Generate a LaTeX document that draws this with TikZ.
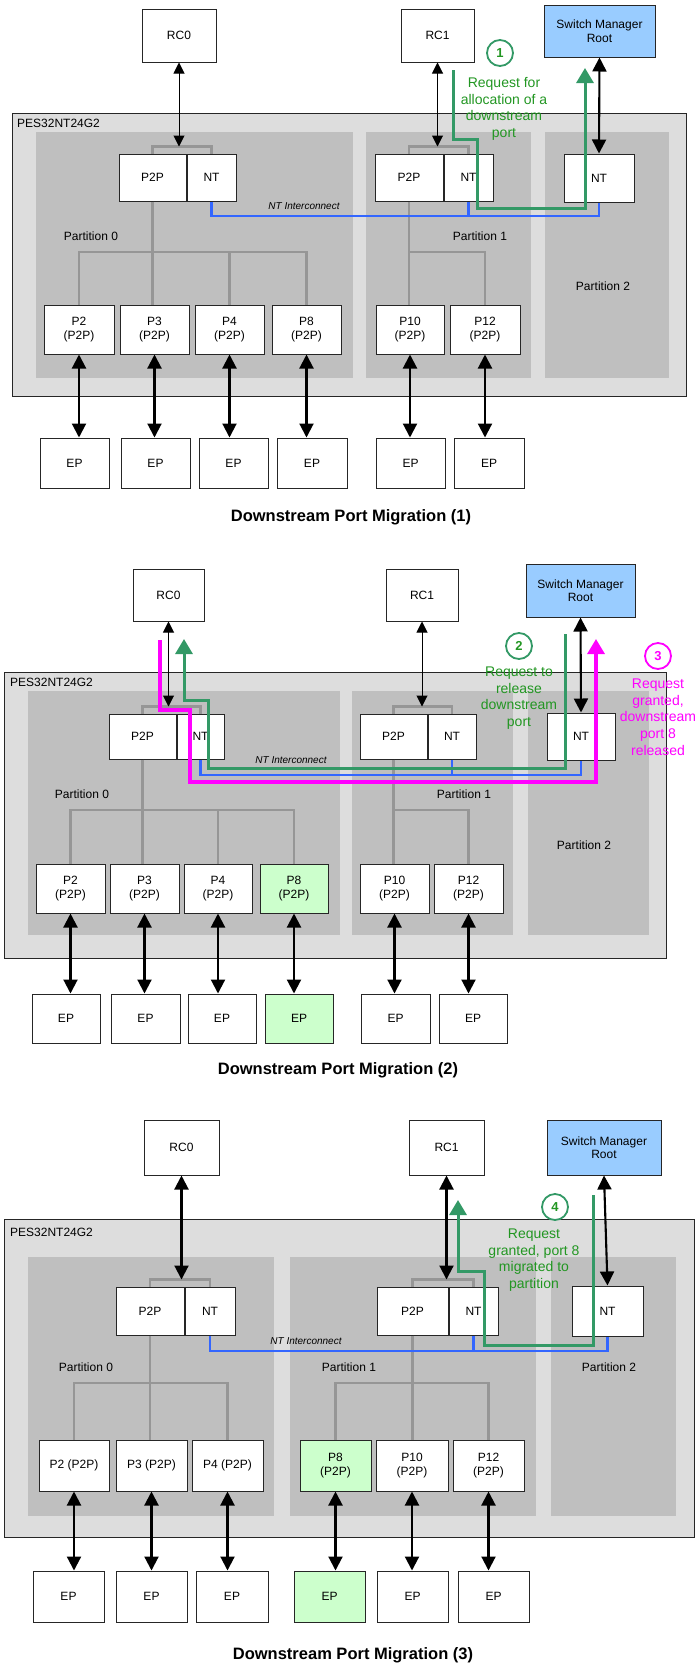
\documentclass[tikz,border=0pt]{standalone}
\usepackage{fontspec}
\setmainfont{Liberation Sans}
\definecolor{chipgray}{RGB}{221,221,221}
\definecolor{partgray}{RGB}{191,191,191}
\definecolor{treegray}{RGB}{150,150,150}
\definecolor{smrblue}{RGB}{153,204,255}
\definecolor{movedgreen}{RGB}{204,255,204}
\definecolor{ntblue}{RGB}{51,102,255}
\definecolor{flowgreen}{RGB}{51,153,102}
\definecolor{notegreen}{RGB}{34,150,34}
\definecolor{grantpink}{RGB}{255,0,255}
\usetikzlibrary{
  arrows.meta,
  positioning,
}
\newcommand{\lblfont}{\fontsize{12}{14.3}\selectfont}
\newcommand{\notefont}{\fontsize{14}{16.7}\selectfont}
\tikzset{
  box/.style 2 args={draw=black!85,fill=white,rectangle,line width=1pt,inner sep=0pt,
    align=center,font=\lblfont,minimum width=#1,minimum height=#2},
  chip/.style={draw=black!85,fill=chipgray,line width=1pt},
  chiplabel/.style={anchor=west,inner sep=0pt,font=\lblfont},
  plabel/.style={inner sep=0pt,font=\lblfont},
  tree/.style={draw=treegray,line width=2.8pt},
  link/.style={{Triangle[length=11pt,width=11pt]}-{Triangle[length=11pt,width=11pt]},line width=1pt},
  biglink/.style={{Triangle[length=14pt,width=14pt]}-{Triangle[length=14pt,width=14pt]},line width=2.1pt},
  ntlink/.style={draw=ntblue,line width=2.8pt},
  ntlabel/.style={inner sep=0pt,font=\fontsize{10}{12}\selectfont\itshape},
  flow/.style={draw=flowgreen,line width=3pt,-{Triangle[length=15pt,width=17pt]}},
  grant/.style={draw=grantpink,line width=3.2pt,-{Triangle[length=15pt,width=17pt]}},
  stepmark/.style={circle,draw=flowgreen,text=notegreen,line width=1.8pt,minimum size=26pt,
    inner sep=0pt,font=\fontsize{13}{13}\selectfont\bfseries},
  note/.style={text=notegreen,align=center,inner sep=0pt,font=\notefont},
  title/.style={inner sep=0pt,font=\fontsize{16.5}{18}\selectfont\bfseries},
}

\begin{document}
\begin{tikzpicture}[x=1pt,y=-1pt,node distance=0pt and 0pt]
  \useasboundingbox (0,0) rectangle (695,1665);

  % ---- migration (1)
  \draw[chip] (12,113) rectangle (686,396);
  \fill[partgray] (36,132) rectangle (353,378);
  \fill[partgray] (366,132) rectangle (531,378);
  \fill[partgray] (545,132) rectangle (669,378);
  \node[chiplabel] (a-chip) at (17,123) {PES32NT24G2};

  \node[box={74}{53}] (a-rc0) at (179,35.5) {RC0};
  \node[box={73}{53}] (a-rc1) at (437.5,35.5) {RC1};
  \node[box={111}{52},fill=smrblue,font=\fontsize{12}{13.5}\selectfont] (a-smr) at (599.5,31) {Switch Manager\\Root};

  \node[box={67}{47}] (a-p2p0) at (152.5,177.5) {P2P};
  \node[box={49}{47}] (a-nt0) [right=of a-p2p0] {NT};
  \node[box={68}{47}] (a-p2p1) at (409,177.5) {P2P};
  \node[box={49}{47}] (a-nt1) [right=of a-p2p1] {NT};
  \node[box={70}{48}] (a-nt2) at (599,178) {NT};

  \node[plabel] (a-part0) at (91,236) {Partition 0};
  \node[plabel] (a-part1) at (480,236) {Partition 1};
  \node[plabel] (a-part2) at (603,286) {Partition 2};

  \node[box={70}{49}] (a-p2) at (79,329.5) {P2\\(P2P)};
  \node[box={69}{49}] (a-p3) at (154.5,329.5) {P3\\(P2P)};
  \node[box={69}{49}] (a-p4) at (229.5,329.5) {P4\\(P2P)};
  \node[box={69}{49}] (a-p8) at (306.5,329.5) {P8\\(P2P)};
  \node[box={68}{49}] (a-p10) at (410,329.5) {P10\\(P2P)};
  \node[box={70}{49}] (a-p12) at (485,329.5) {P12\\(P2P)};

  \node[box={69}{50}] (a-ep2) at (74.5,463) {EP};
  \node[box={69}{50}] (a-ep3) at (155.5,463) {EP};
  \node[box={69}{50}] (a-ep4) at (233.5,463) {EP};
  \node[box={70}{50}] (a-ep8) at (312,463) {EP};
  \node[box={69}{50}] (a-ep10) at (410.5,463) {EP};
  \node[box={70}{50}] (a-ep12) at (489,463) {EP};

  \path (a-p2p0.north) ++(0,-7) coordinate (a-br0);
  \path (a-p2p1.north) ++(0,-7) coordinate (a-br1);
  \draw[tree] (a-p2p0.north) -- (a-br0) -| (a-nt0.north);
  \draw[tree] (a-p2p1.north) -- (a-br1) -| (a-nt1.north);
  \draw[link] (a-rc0.south) -- (a-rc0.south |- a-br0);
  \draw[link] (a-rc1.south) -- (a-rc1.south |- a-br1);
  \draw[biglink] (a-smr.south) -- (a-nt2.north);

  \coordinate (a-bus) at (0,252);
  \draw[tree] (a-p2p0.south) -- (a-p2p0.south |- a-p3.north);
  \draw[tree] (a-p2.north) -- (a-p2.north |- a-bus) -| (a-p8.north);
  \draw[tree] (a-p4.north) -- (a-p4.north |- a-bus);
  \draw[tree] (a-p2p1.south) -- (a-p2p1.south |- a-p10.north);
  \draw[tree] (a-p2p1.south |- a-bus) -| (a-p12.north);
  \foreach \p in {2,3,4,8,10,12}
    \draw[biglink] (a-p\p.south) -- (a-p\p.south |- a-ep\p.north);

  \coordinate (a-ntbus) at (0,216);
  \draw[ntlink] (a-nt0.south) |- (a-nt2.south |- a-ntbus) -- (a-nt2.south);
  \draw[ntlink] (a-nt1.south) -- (a-nt1.south |- a-ntbus);
  \node[ntlabel] (a-ntlabel) at (304,206) {NT Interconnect};

  \coordinate (a-ask) at (453,70);
  \coordinate (a-done) at (585,68);
  \draw[flow] (a-ask) -- (453,139) -- (477,139) -- (477,208) -- (585,208) -- (a-done);
  \node[stepmark] (a-step1) at (500,53) {1};
  \node[note] (a-note1) at (504,109) {Request for\\allocation of a\\downstream\\port};

  \node[title] (a-title) at (351,517) {Downstream Port Migration (1)};

  % ---- migration (2)
  \draw[chip] (4,672) rectangle (666,958);
  \fill[partgray] (28,691) rectangle (340,935);
  \fill[partgray] (352,691) rectangle (513,935);
  \fill[partgray] (528,691) rectangle (649,935);
  \node[chiplabel] (b-chip) at (10,682) {PES32NT24G2};

  \node[box={71}{52}] (b-rc0) at (168.5,595) {RC0};
  \node[box={72}{52}] (b-rc1) at (422,595) {RC1};
  \node[box={109}{53},fill=smrblue,font=\fontsize{12}{13.5}\selectfont] (b-smr) at (580.5,590.5) {Switch Manager\\Root};

  \node[box={67}{45}] (b-p2p0) at (142.5,736.5) {P2P};
  \node[box={47}{45}] (b-nt0) [right=of b-p2p0] {NT};
  \node[box={67}{45}] (b-p2p1) at (393.5,736.5) {P2P};
  \node[box={48}{45}] (b-nt1) [right=of b-p2p1] {NT};
  \node[box={68}{47}] (b-nt2) at (581,736.5) {NT};

  \node[plabel] (b-part0) at (82,794) {Partition 0};
  \node[plabel] (b-part1) at (464,794) {Partition 1};
  \node[plabel] (b-part2) at (584,845) {Partition 2};

  \node[box={69}{49}] (b-p2) at (70.5,888.5) {P2\\(P2P)};
  \node[box={69}{49}] (b-p3) at (144.5,888.5) {P3\\(P2P)};
  \node[box={68}{49}] (b-p4) at (218,888.5) {P4\\(P2P)};
  \node[box={68}{49},fill=movedgreen] (b-p8) at (294,888.5) {P8\\(P2P)};
  \node[box={69}{49}] (b-p10) at (394.5,888.5) {P10\\(P2P)};
  \node[box={69}{49}] (b-p12) at (468.5,888.5) {P12\\(P2P)};

  \node[box={68}{49}] (b-ep2) at (66,1018.5) {EP};
  \node[box={69}{49}] (b-ep3) at (145.5,1018.5) {EP};
  \node[box={68}{49}] (b-ep4) at (222,1018.5) {EP};
  \node[box={68}{49},fill=movedgreen] (b-ep8) at (299,1018.5) {EP};
  \node[box={69}{49}] (b-ep10) at (395.5,1018.5) {EP};
  \node[box={68}{49}] (b-ep12) at (473,1018.5) {EP};

  \path (b-p2p0.north) ++(0,-7) coordinate (b-br0);
  \path (b-p2p1.north) ++(0,-7) coordinate (b-br1);
  \draw[tree] (b-p2p0.north) -- (b-br0) -| (b-nt0.north);
  \draw[tree] (b-p2p1.north) -- (b-br1) -| (b-nt1.north);
  \draw[link] (b-rc0.south) -- (b-rc0.south |- b-br0);
  \draw[link] (b-rc1.south) -- (b-rc1.south |- b-br1);
  \draw[biglink] (b-smr.south) -- (b-nt2.north);

  \coordinate (b-bus) at (0,810);
  \draw[tree] (b-p2p0.south) -- (b-p2p0.south |- b-p3.north);
  \draw[tree] (b-p2.north) -- (b-p2.north |- b-bus) -| (b-p8.north);
  \draw[tree] (b-p4.north) -- (b-p4.north |- b-bus);
  \draw[tree] (b-p2p1.south) -- (b-p2p1.south |- b-p10.north);
  \draw[tree] (b-p2p1.south |- b-bus) -| (b-p12.north);
  \foreach \p in {2,3,4,8,10,12}
    \draw[biglink] (b-p\p.south) -- (b-p\p.south |- b-ep\p.north);

  \coordinate (b-ntbus) at (0,775);
  \draw[ntlink] (b-nt0.south) |- (b-nt2.south |- b-ntbus) -- (b-nt2.south);
  \draw[ntlink] (b-nt1.south) -- (b-nt1.south |- b-ntbus);
  \node[ntlabel] (b-ntlabel) at (291,760) {NT Interconnect};

  \coordinate (b-ask) at (565,634);
  \coordinate (b-done) at (184,639);
  \draw[flow] (b-ask) -- (565,768) -- (208,768) -- (208,700) -- (184,700) -- (b-done);
  \coordinate (b-free) at (160,640);
  \coordinate (b-ok) at (596,639);
  \draw[grant] (b-free) -- (160,710) -- (190,710) -- (190,782) -- (596,782) -- (b-ok);
  \node[stepmark] (b-step2) at (519,646) {2};
  \node[note] (b-note2) at (519,698) {Request to\\release\\downstream\\port};
  \node[stepmark,draw=grantpink,text=grantpink] (b-step3) at (658,656) {3};
  \node[note,text=grantpink] (b-note3) at (658,717) {Request\\granted,\\downstream\\port 8\\released};

  \node[title] (b-title) at (338,1070) {Downstream Port Migration (2)};

  % ---- migration (3)
  \draw[chip] (4,1219) rectangle (694,1537);
  \fill[partgray] (28,1257) rectangle (274,1516);
  \fill[partgray] (290,1257) rectangle (536,1516);
  \fill[partgray] (551,1257) rectangle (676,1516);
  \node[chiplabel] (c-chip) at (10,1232) {PES32NT24G2};

  \node[box={75}{55}] (c-rc0) at (181.5,1147.5) {RC0};
  \node[box={75}{55}] (c-rc1) at (446.5,1147.5) {RC1};
  \node[box={114}{55},fill=smrblue,font=\fontsize{12}{13.5}\selectfont] (c-smr) at (604,1147.5) {Switch Manager\\Root};

  \node[box={68}{48}] (c-p2p0) at (150,1311) {P2P};
  \node[box={50}{48}] (c-nt0) [right=of c-p2p0] {NT};
  \node[box={71}{48}] (c-p2p1) at (412.5,1311) {P2P};
  \node[box={49}{48}] (c-nt1) [right=of c-p2p1] {NT};
  \node[box={71}{50}] (c-nt2) at (607.5,1311) {NT};

  \node[plabel] (c-part0) at (86,1367) {Partition 0};
  \node[plabel] (c-part1) at (349,1367) {Partition 1};
  \node[plabel] (c-part2) at (609,1367) {Partition 2};

  \node[box={70}{51}] (c-p2) at (74,1465.5) {P2 (P2P)};
  \node[box={71}{51}] (c-p3) at (151.5,1465.5) {P3 (P2P)};
  \node[box={71}{51}] (c-p4) at (227.5,1465.5) {P4 (P2P)};
  \node[box={71}{51},fill=movedgreen] (c-p8) at (335.5,1465.5) {P8\\(P2P)};
  \node[box={72}{51}] (c-p10) at (412,1465.5) {P10\\(P2P)};
  \node[box={71}{51}] (c-p12) at (488.5,1465.5) {P12\\(P2P)};

  \node[box={71}{51}] (c-ep2) at (68.5,1596.5) {EP};
  \node[box={71}{51}] (c-ep3) at (151.5,1596.5) {EP};
  \node[box={72}{51}] (c-ep4) at (232,1596.5) {EP};
  \node[box={71}{51},fill=movedgreen] (c-ep8) at (329.5,1596.5) {EP};
  \node[box={71}{51}] (c-ep10) at (412.5,1596.5) {EP};
  \node[box={71}{51}] (c-ep12) at (493.5,1596.5) {EP};

  \path (c-p2p0.north) ++(0,-7) coordinate (c-br0);
  \path (c-p2p1.north) ++(0,-7) coordinate (c-br1);
  \draw[tree] (c-p2p0.north) -- (c-br0) -| (c-nt0.north);
  \draw[tree] (c-p2p1.north) -- (c-br1) -| (c-nt1.north);
  \draw[biglink] (c-rc0.south) -- (c-rc0.south |- c-br0);
  \draw[biglink] (c-rc1.south) -- (c-rc1.south |- c-br1);
  \draw[biglink] (c-smr.south) -- (c-nt2.north);

  \coordinate (c-bus) at (0,1383);
  \draw[tree] (c-p2p0.south) -- (c-p2p0.south |- c-p3.north);
  \draw[tree] (c-p2.north) -- (c-p2.north |- c-bus) -| (c-p4.north);
  \draw[tree] (c-p2p1.south) -- (c-p2p1.south |- c-p10.north);
  \draw[tree] (c-p8.north) -- (c-p8.north |- c-bus) -| (c-p12.north);
  \foreach \p in {2,3,4,8,10,12}
    \draw[biglink] (c-p\p.south) -- (c-p\p.south |- c-ep\p.north);

  \coordinate (c-ntbus) at (0,1351);
  \draw[ntlink] (c-nt0.south) |- (c-nt2.south |- c-ntbus) -- (c-nt2.south);
  \draw[ntlink] (c-nt1.south) -- (c-nt1.south |- c-ntbus);
  \node[ntlabel] (c-ntlabel) at (306,1341) {NT Interconnect};

  \coordinate (c-ask) at (593,1195);
  \coordinate (c-done) at (458,1200);
  \draw[flow] (c-ask) -- (593,1345) -- (484,1345) -- (484,1271) -- (458,1271) -- (c-done);
  \node[stepmark] (c-step4) at (555,1207) {4};
  \node[note] (c-note4) at (534,1260) {Request\\granted, port 8\\migrated to\\partition};

  \node[title] (c-title) at (353,1655) {Downstream Port Migration (3)};
\end{tikzpicture}
\end{document}
